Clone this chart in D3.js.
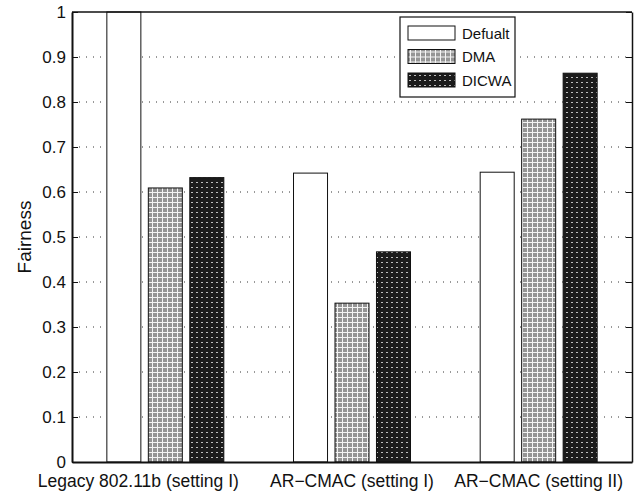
<!DOCTYPE html>
<html>
<head>
<meta charset="utf-8">
<script src="https://cdn.jsdelivr.net/npm/d3@7"></script>
<style>
  body { margin: 0; background: #fff; }
  svg { display: block; font-family: "Liberation Sans", Arial, sans-serif; }
</style>
</head>
<body>
<svg id="chart" width="643" height="493"></svg>
<script>
let groups = ["Legacy 802.11b (setting I)", "AR\u2212CMAC (setting I)", "AR\u2212CMAC (setting II)"];
let series = ["Defualt", "DMA", "DICWA"];
let defaultVals = [1.0, 0.642, 0.644];
let dmaVals = [0.609, 0.353, 0.762];
let dicwaVals = [0.632, 0.467, 0.864];
let yTicks = [0, 0.1, 0.2, 0.3, 0.4, 0.5, 0.6, 0.7, 0.8, 0.9, 1];

let values = [defaultVals, dmaVals, dicwaVals];
let fills = ["#fff", "url(#pDMA)", "url(#pDICWA)"];

let mLeft = 72, mRight = 632, mTop = 12, mBottom = 462;

let svg = d3.select("#chart");

// patterns for the hatched bars
let defs = svg.append("defs");
let p1 = defs.append("pattern").attr("id", "pDMA").attr("patternUnits", "userSpaceOnUse")
  .attr("width", 5).attr("height", 5);
p1.append("rect").attr("width", 5).attr("height", 5).attr("fill", "#959595");
p1.append("rect").attr("x", 0).attr("y", 2).attr("width", 5).attr("height", 1).attr("fill", "#f4f4f4");
p1.append("rect").attr("x", 2).attr("y", 0).attr("width", 1).attr("height", 5).attr("fill", "#f4f4f4");
let p2 = defs.append("pattern").attr("id", "pDICWA").attr("patternUnits", "userSpaceOnUse")
  .attr("width", 5).attr("height", 5);
p2.append("rect").attr("width", 5).attr("height", 5).attr("fill", "#1c1c1c");
p2.append("rect").attr("x", 1).attr("y", 2).attr("width", 2).attr("height", 1).attr("fill", "#bdbdbd");

let x0 = d3.scaleBand().domain(groups).range([mLeft, mRight]).paddingInner(0).paddingOuter(0);
let x1 = d3.scaleBand().domain(series).range([0, x0.bandwidth()]).paddingInner(0.18).paddingOuter(0.84);
let y = d3.scaleLinear().domain([0, 1]).range([mBottom, mTop]);

// dotted grid
svg.append("g").selectAll("line").data(yTicks.slice(1, -1)).enter().append("line")
  .attr("x1", mLeft).attr("x2", mRight)
  .attr("y1", d => y(d)).attr("y2", d => y(d))
  .attr("stroke", "#333").attr("stroke-width", 1)
  .attr("stroke-dasharray", "1,6");

// bars
let rows = [];
groups.forEach((g, gi) => {
  series.forEach((s, si) => {
    rows.push({ group: g, series: s, si: si, value: values[si][gi] });
  });
});

svg.append("g").selectAll("rect").data(rows).enter().append("rect")
  .attr("x", d => x0(d.group) + x1(d.series))
  .attr("y", d => y(d.value))
  .attr("width", x1.bandwidth())
  .attr("height", d => y(0) - y(d.value))
  .attr("fill", d => fills[d.si])
  .attr("stroke", "#111").attr("stroke-width", 1);

// axes
let yAxisL = d3.axisLeft(y).tickValues(yTicks).tickSizeInner(-6).tickSizeOuter(0).tickPadding(6)
  .tickFormat(d => d3.format("")(+d.toFixed(1)));
let gy = svg.append("g").attr("transform", "translate(" + mLeft + ",0)").call(yAxisL);
gy.selectAll("text").style("font-size", "17px").attr("fill", "#111");
gy.selectAll("line").attr("stroke", "#111");
gy.select(".domain").attr("stroke", "#111").attr("stroke-width", 2);

let yAxisR = d3.axisRight(y).tickValues(yTicks).tickSizeInner(-6).tickSizeOuter(0).tickFormat("");
let gr = svg.append("g").attr("transform", "translate(" + mRight + ",0)").call(yAxisR);
gr.selectAll("line").attr("stroke", "#111");
gr.select(".domain").attr("stroke", "#111").attr("stroke-width", 1.5);

let xAxis = d3.axisBottom(x0).tickSize(0).tickPadding(13);
let gx = svg.append("g").attr("transform", "translate(0," + mBottom + ")").call(xAxis);
gx.selectAll("text").style("font-size", "17.5px").attr("fill", "#111");
gx.selectAll("text").filter((d, i) => i === 0).attr("dx", -27);
gx.select(".domain").attr("stroke", "#111").attr("stroke-width", 2);

svg.append("line").attr("x1", mLeft).attr("x2", mRight).attr("y1", mTop).attr("y2", mTop)
  .attr("stroke", "#111").attr("stroke-width", 1.5);

// y label
svg.append("text")
  .attr("transform", "translate(31," + ((mTop + mBottom) / 2) + ") rotate(-90)")
  .attr("text-anchor", "middle")
  .style("font-size", "19px").attr("fill", "#111")
  .text("Fairness");

// legend
let lg = svg.append("g").attr("transform", "translate(400,17)");
lg.append("rect").attr("width", 115).attr("height", 80)
  .attr("fill", "#fff").attr("stroke", "#111").attr("stroke-width", 1.2);
let item = lg.selectAll("g").data(series).enter().append("g")
  .attr("transform", (d, i) => "translate(8," + (9 + i * 23.5) + ")");
item.append("rect").attr("width", 47).attr("height", 14)
  .attr("fill", (d, i) => fills[i]).attr("stroke", "#111");
item.append("text").attr("x", 54).attr("y", 12.5)
  .style("font-size", "15px").attr("fill", "#111")
  .text(d => d);
</script>
</body>
</html>
